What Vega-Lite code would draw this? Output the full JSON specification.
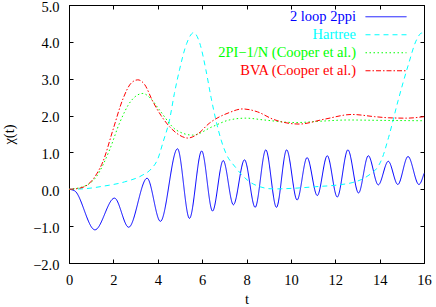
{
  "$schema": "https://vega.github.io/schema/vega-lite/v6.json",
  "width": 355,
  "height": 258,
  "autosize": {"type": "none"},
  "padding": {"left": 69, "top": 5, "right": 12, "bottom": 44},
  "config": {
    "view": {"stroke": "black", "strokeWidth": 1},
    "font": "Liberation Serif",
    "axis": {
      "grid": false,
      "tickSize": -4,
      "tickColor": "black",
      "domainColor": "black",
      "labelFont": "Liberation Serif",
      "labelFontSize": 14.5,
      "labelColor": "black",
      "labelPadding": 14,
      "labelFlush": false,
      "labelOverlap": false,
      "titleFont": "Liberation Serif",
      "titleFontSize": 14.5,
      "titleFontWeight": "normal",
      "titleColor": "black"
    }
  },
  "data": {
    "values": [
      {"series": "2 loop 2ppi", "t": 0, "chi": 0},
      {"series": "2 loop 2ppi", "t": 0.25, "chi": -0.04},
      {"series": "2 loop 2ppi", "t": 1.17, "chi": -1.1},
      {"series": "2 loop 2ppi", "t": 2.05, "chi": -0.24},
      {"series": "2 loop 2ppi", "t": 2.69, "chi": -1.03},
      {"series": "2 loop 2ppi", "t": 3.52, "chi": 0.3},
      {"series": "2 loop 2ppi", "t": 4.12, "chi": -0.87},
      {"series": "2 loop 2ppi", "t": 4.89, "chi": 1.1},
      {"series": "2 loop 2ppi", "t": 5.43, "chi": -0.79},
      {"series": "2 loop 2ppi", "t": 5.98, "chi": 1.04},
      {"series": "2 loop 2ppi", "t": 6.47, "chi": -0.59},
      {"series": "2 loop 2ppi", "t": 6.95, "chi": 0.78},
      {"series": "2 loop 2ppi", "t": 7.41, "chi": -0.42},
      {"series": "2 loop 2ppi", "t": 7.91, "chi": 0.8},
      {"series": "2 loop 2ppi", "t": 8.39, "chi": -0.49},
      {"series": "2 loop 2ppi", "t": 8.87, "chi": 1.07},
      {"series": "2 loop 2ppi", "t": 9.35, "chi": -0.49},
      {"series": "2 loop 2ppi", "t": 9.81, "chi": 1.07},
      {"series": "2 loop 2ppi", "t": 10.28, "chi": -0.29},
      {"series": "2 loop 2ppi", "t": 10.73, "chi": 0.86},
      {"series": "2 loop 2ppi", "t": 11.19, "chi": -0.17},
      {"series": "2 loop 2ppi", "t": 11.64, "chi": 0.91},
      {"series": "2 loop 2ppi", "t": 12.09, "chi": -0.21},
      {"series": "2 loop 2ppi", "t": 12.57, "chi": 1.07},
      {"series": "2 loop 2ppi", "t": 13.05, "chi": -0.1},
      {"series": "2 loop 2ppi", "t": 13.49, "chi": 0.91},
      {"series": "2 loop 2ppi", "t": 13.94, "chi": 0.12},
      {"series": "2 loop 2ppi", "t": 14.39, "chi": 0.76},
      {"series": "2 loop 2ppi", "t": 14.82, "chi": 0.13},
      {"series": "2 loop 2ppi", "t": 15.28, "chi": 0.89},
      {"series": "2 loop 2ppi", "t": 15.77, "chi": 0.13},
      {"series": "2 loop 2ppi", "t": 16, "chi": 0.43},

      {"series": "Hartree", "t": 0, "chi": 0},
      {"series": "Hartree", "t": 0.8, "chi": 0.02},
      {"series": "Hartree", "t": 1.5, "chi": 0.08},
      {"series": "Hartree", "t": 2.5, "chi": 0.2},
      {"series": "Hartree", "t": 3.3, "chi": 0.38},
      {"series": "Hartree", "t": 3.7, "chi": 0.55},
      {"series": "Hartree", "t": 4.0, "chi": 0.82},
      {"series": "Hartree", "t": 4.25, "chi": 1.3},
      {"series": "Hartree", "t": 4.53, "chi": 1.88},
      {"series": "Hartree", "t": 4.75, "chi": 2.6},
      {"series": "Hartree", "t": 4.98, "chi": 3.24},
      {"series": "Hartree", "t": 5.3, "chi": 3.95},
      {"series": "Hartree", "t": 5.62, "chi": 4.25},
      {"series": "Hartree", "t": 5.9, "chi": 3.95},
      {"series": "Hartree", "t": 6.17, "chi": 3.24},
      {"series": "Hartree", "t": 6.4, "chi": 2.5},
      {"series": "Hartree", "t": 6.62, "chi": 1.88},
      {"series": "Hartree", "t": 6.85, "chi": 1.35},
      {"series": "Hartree", "t": 7.07, "chi": 0.98},
      {"series": "Hartree", "t": 7.5, "chi": 0.6},
      {"series": "Hartree", "t": 8.1, "chi": 0.22},
      {"series": "Hartree", "t": 8.6, "chi": 0.07},
      {"series": "Hartree", "t": 9.2, "chi": 0.01},
      {"series": "Hartree", "t": 10.2, "chi": 0.03},
      {"series": "Hartree", "t": 11.1, "chi": 0.07},
      {"series": "Hartree", "t": 12.16, "chi": 0.12},
      {"series": "Hartree", "t": 12.76, "chi": 0.18},
      {"series": "Hartree", "t": 13.2, "chi": 0.27},
      {"series": "Hartree", "t": 13.6, "chi": 0.42},
      {"series": "Hartree", "t": 13.86, "chi": 0.56},
      {"series": "Hartree", "t": 14.1, "chi": 0.82},
      {"series": "Hartree", "t": 14.4, "chi": 1.4},
      {"series": "Hartree", "t": 14.83, "chi": 2.4},
      {"series": "Hartree", "t": 15.28, "chi": 3.35},
      {"series": "Hartree", "t": 15.66, "chi": 4.05},
      {"series": "Hartree", "t": 15.9, "chi": 4.24},
      {"series": "Hartree", "t": 16, "chi": 4.22},

      {"series": "2PI−1/N (Cooper et al.)", "t": 0, "chi": 0},
      {"series": "2PI−1/N (Cooper et al.)", "t": 0.63, "chi": 0.07},
      {"series": "2PI−1/N (Cooper et al.)", "t": 1.23, "chi": 0.34},
      {"series": "2PI−1/N (Cooper et al.)", "t": 1.83, "chi": 1.07},
      {"series": "2PI−1/N (Cooper et al.)", "t": 2.28, "chi": 1.8},
      {"series": "2PI−1/N (Cooper et al.)", "t": 2.8, "chi": 2.4},
      {"series": "2PI−1/N (Cooper et al.)", "t": 3.33, "chi": 2.6},
      {"series": "2PI−1/N (Cooper et al.)", "t": 3.7, "chi": 2.45},
      {"series": "2PI−1/N (Cooper et al.)", "t": 4.08, "chi": 2.15},
      {"series": "2PI−1/N (Cooper et al.)", "t": 4.83, "chi": 1.61},
      {"series": "2PI−1/N (Cooper et al.)", "t": 5.57, "chi": 1.47},
      {"series": "2PI−1/N (Cooper et al.)", "t": 6.47, "chi": 1.7},
      {"series": "2PI−1/N (Cooper et al.)", "t": 7.22, "chi": 1.88},
      {"series": "2PI−1/N (Cooper et al.)", "t": 7.97, "chi": 1.93},
      {"series": "2PI−1/N (Cooper et al.)", "t": 8.8, "chi": 1.88},
      {"series": "2PI−1/N (Cooper et al.)", "t": 10.22, "chi": 1.81},
      {"series": "2PI−1/N (Cooper et al.)", "t": 11.4, "chi": 1.85},
      {"series": "2PI−1/N (Cooper et al.)", "t": 12.6, "chi": 1.88},
      {"series": "2PI−1/N (Cooper et al.)", "t": 14, "chi": 1.87},
      {"series": "2PI−1/N (Cooper et al.)", "t": 16, "chi": 1.86},

      {"series": "BVA (Cooper et al.)", "t": 0, "chi": 0},
      {"series": "BVA (Cooper et al.)", "t": 0.48, "chi": 0.03},
      {"series": "BVA (Cooper et al.)", "t": 0.93, "chi": 0.17},
      {"series": "BVA (Cooper et al.)", "t": 1.25, "chi": 0.42},
      {"series": "BVA (Cooper et al.)", "t": 1.53, "chi": 0.75},
      {"series": "BVA (Cooper et al.)", "t": 1.98, "chi": 1.61},
      {"series": "BVA (Cooper et al.)", "t": 2.43, "chi": 2.45},
      {"series": "BVA (Cooper et al.)", "t": 2.8, "chi": 2.88},
      {"series": "BVA (Cooper et al.)", "t": 3.1, "chi": 2.97},
      {"series": "BVA (Cooper et al.)", "t": 3.4, "chi": 2.85},
      {"series": "BVA (Cooper et al.)", "t": 3.78, "chi": 2.38},
      {"series": "BVA (Cooper et al.)", "t": 4.15, "chi": 2.0},
      {"series": "BVA (Cooper et al.)", "t": 4.53, "chi": 1.7},
      {"series": "BVA (Cooper et al.)", "t": 4.95, "chi": 1.48},
      {"series": "BVA (Cooper et al.)", "t": 5.35, "chi": 1.39},
      {"series": "BVA (Cooper et al.)", "t": 5.8, "chi": 1.5},
      {"series": "BVA (Cooper et al.)", "t": 6.32, "chi": 1.79},
      {"series": "BVA (Cooper et al.)", "t": 7.22, "chi": 2.08},
      {"series": "BVA (Cooper et al.)", "t": 7.82, "chi": 2.18},
      {"series": "BVA (Cooper et al.)", "t": 8.5, "chi": 2.1},
      {"series": "BVA (Cooper et al.)", "t": 9.2, "chi": 1.9},
      {"series": "BVA (Cooper et al.)", "t": 10.37, "chi": 1.77},
      {"series": "BVA (Cooper et al.)", "t": 11.5, "chi": 1.9},
      {"series": "BVA (Cooper et al.)", "t": 12.76, "chi": 2.03},
      {"series": "BVA (Cooper et al.)", "t": 13.78, "chi": 1.97},
      {"series": "BVA (Cooper et al.)", "t": 14.41, "chi": 1.94},
      {"series": "BVA (Cooper et al.)", "t": 15.2, "chi": 1.93},
      {"series": "BVA (Cooper et al.)", "t": 16, "chi": 1.97}
    ]
  },
  "layer": [
    {
      "mark": {"type": "line", "interpolate": "monotone", "strokeWidth": 1},
      "encoding": {
        "x": {
          "field": "t", "type": "quantitative",
          "scale": {"domain": [0, 16], "nice": false, "zero": false},
          "axis": {"orient": "bottom", "values": [0, 2, 4, 6, 8, 10, 12, 14, 16], "title": "t", "titlePadding": 6}
        },
        "y": {
          "field": "chi", "type": "quantitative",
          "scale": {"domain": [-2, 5], "nice": false, "zero": false},
          "axis": {"orient": "left", "values": [-2, -1, 0, 1, 2, 3, 4, 5], "format": ".1f", "title": "χ(t)", "titlePadding": 16, "labelOffset": 2}
        },
        "color": {
          "field": "series", "type": "nominal",
          "scale": {
            "domain": ["2 loop 2ppi", "Hartree", "2PI−1/N (Cooper et al.)", "BVA (Cooper et al.)"],
            "range": ["#0000ff", "#00ffff", "#00ff00", "#ff0000"]
          },
          "legend": {
            "title": null, "orient": "none", "legendX": 137, "legendY": 4.5,
            "padding": 0, "rowPadding": 3, "symbolType": "M-20.5,0H20.5", "symbolSize": 4, "symbolStrokeWidth": 1,
            "labelFont": "Liberation Serif", "labelFontSize": 14.5, "labelLimit": 400,
            "encode": {
              "labels": {"update": {"fill": {"scale": "color", "field": "value"}, "x": {"value": 150}, "align": {"value": "right"}}},
              "symbols": {"update": {"x": {"value": 180}}}
            }
          }
        },
        "strokeDash": {
          "field": "series", "type": "nominal",
          "scale": {
            "domain": ["2 loop 2ppi", "Hartree", "2PI−1/N (Cooper et al.)", "BVA (Cooper et al.)"],
            "range": [[1, 0], [5, 4], [1.5, 2.5], [5, 2, 1.5, 2]]
          },
          "legend": {
            "title": null, "orient": "none", "legendX": 137, "legendY": 4.5,
            "padding": 0, "rowPadding": 3, "symbolType": "M-20.5,0H20.5", "symbolSize": 4, "symbolStrokeWidth": 1,
            "labelFont": "Liberation Serif", "labelFontSize": 14.5, "labelLimit": 400,
            "encode": {
              "labels": {"update": {"fill": {"scale": "color", "field": "value"}, "x": {"value": 150}, "align": {"value": "right"}}},
              "symbols": {"update": {"x": {"value": 180}}}
            }
          }
        }
      }
    },
    {
      "mark": {"type": "line", "opacity": 0},
      "encoding": {
        "x": {
          "field": "t", "type": "quantitative",
          "axis": {"orient": "top", "values": [0, 2, 4, 6, 8, 10, 12, 14, 16], "labels": false, "title": null}
        },
        "y": {
          "field": "chi", "type": "quantitative",
          "axis": {"orient": "right", "values": [-2, -1, 0, 1, 2, 3, 4, 5], "labels": false, "title": null}
        },
        "detail": {"field": "series", "type": "nominal"}
      }
    }
  ],
  "resolve": {"axis": {"x": "independent", "y": "independent"}}
}
